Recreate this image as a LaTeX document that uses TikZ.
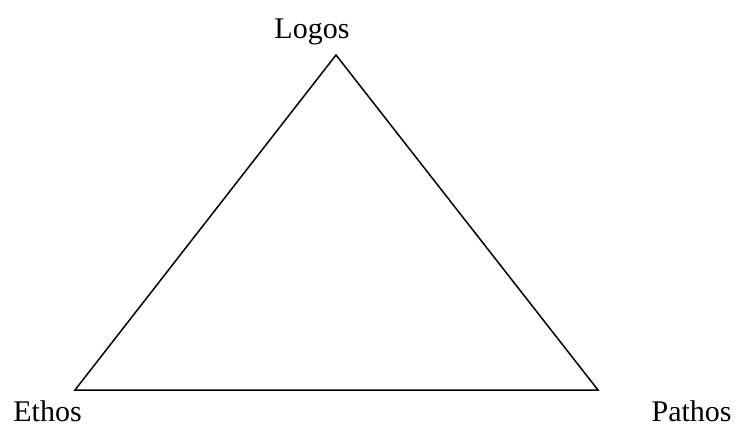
\documentclass[tikz,border=0pt]{standalone}
\usepackage{fontspec}
\setmainfont{Liberation Serif}
\tikzset{lbl/.style={inner sep=0pt,font=\fontsize{15}{18}\selectfont},
edge/.style={line width=0.75pt,line join=miter}}
\begin{document}
\begin{tikzpicture}[x=0.5pt,y=-0.5pt]
\useasboundingbox (0,0) rectangle (736,425);
\coordinate (top) at (336,55);
\coordinate (left) at (75,390);
\coordinate (right) at (598,390);
\draw[edge] (top) -- (left) -- (right) -- cycle;
\node[lbl,anchor=base] (logos) at (312,38) {Logos};
\node[lbl,anchor=base west] (ethos) at (13,421) {Ethos};
\node[lbl,anchor=base east] (pathos) at (732,421) {Pathos};
\end{tikzpicture}
\end{document}
